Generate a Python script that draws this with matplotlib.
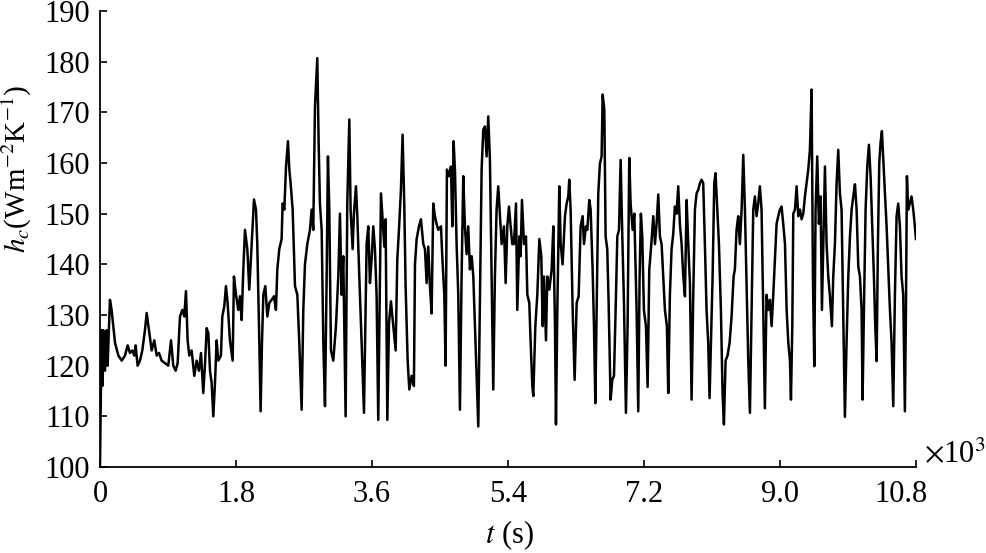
import matplotlib
matplotlib.use("Agg")
import matplotlib.pyplot as plt
import matplotlib.transforms as mtransforms
import numpy as np

plt.rcParams['font.family'] = ['Liberation Serif', 'DejaVu Serif']
plt.rcParams['mathtext.fontset'] = 'stix'

# time in 10^3 s
t_ks = [
    0.000, 0.022, 0.031, 0.044, 0.066, 0.088, 0.101, 0.132, 0.154, 0.199,
    0.243, 0.287, 0.331, 0.366, 0.397, 0.428, 0.454, 0.472, 0.498, 0.529,
    0.560, 0.595, 0.618, 0.648, 0.684, 0.719, 0.750, 0.781, 0.816, 0.860,
    0.904, 0.940, 0.970, 1.001, 1.028, 1.059, 1.090, 1.116, 1.138, 1.160,
    1.182, 1.213, 1.248, 1.279, 1.310, 1.337, 1.367, 1.389, 1.412, 1.434,
    1.456, 1.478, 1.500, 1.522, 1.544, 1.566, 1.601, 1.619, 1.645, 1.667,
    1.689, 1.720,
    1.756, 1.773, 1.800, 1.831, 1.853, 1.875, 1.897, 1.919, 1.950, 1.976,
    1.994, 2.020, 2.038, 2.065, 2.082, 2.109, 2.126, 2.144, 2.162, 2.188,
    2.215, 2.241, 2.272, 2.303, 2.329, 2.347, 2.373, 2.404, 2.417, 2.440,
    2.462, 2.488, 2.506, 2.523, 2.550, 2.581, 2.612, 2.638, 2.669, 2.691,
    2.713, 2.744, 2.779, 2.801, 2.823, 2.845, 2.876, 2.894, 2.911, 2.934,
    2.956, 2.978, 3.000, 3.017, 3.035, 3.057, 3.088, 3.123, 3.154, 3.176,
    3.198, 3.220, 3.251, 3.273, 3.300, 3.317, 3.344, 3.361, 3.388, 3.406,
    3.432, 3.463, 3.494,
    3.529, 3.551, 3.573, 3.595, 3.617, 3.639, 3.661, 3.683, 3.705, 3.719,
    3.741, 3.763, 3.780, 3.803, 3.825, 3.851, 3.882, 3.913, 3.935, 3.957,
    3.983, 4.005, 4.028, 4.045, 4.072, 4.094, 4.125, 4.155, 4.169, 4.191,
    4.222, 4.248, 4.279, 4.301, 4.323, 4.345, 4.367, 4.389, 4.411, 4.433,
    4.455, 4.477, 4.513, 4.530, 4.557, 4.574, 4.592, 4.619, 4.645, 4.663,
    4.680, 4.698, 4.720, 4.742, 4.764, 4.786, 4.808, 4.830, 4.852, 4.874,
    4.896, 4.919, 4.941, 4.963, 4.985, 5.007, 5.029, 5.051, 5.073, 5.095,
    5.117, 5.139, 5.161, 5.183, 5.205, 5.227, 5.249, 5.271,
    5.316, 5.347, 5.369, 5.391, 5.413, 5.435, 5.457, 5.479, 5.506, 5.523,
    5.550, 5.567, 5.585, 5.612, 5.638, 5.656, 5.682, 5.700, 5.722, 5.735,
    5.762, 5.788, 5.815, 5.841, 5.859, 5.876, 5.903, 5.920, 5.947, 5.978,
    6.000, 6.022, 6.035, 6.053, 6.079, 6.097, 6.123, 6.154, 6.176, 6.198,
    6.211, 6.229, 6.256, 6.282, 6.309, 6.335, 6.361, 6.388, 6.406, 6.432,
    6.450, 6.476, 6.494, 6.520, 6.538, 6.556, 6.573, 6.595, 6.617, 6.639,
    6.653, 6.675, 6.692, 6.714, 6.732, 6.758, 6.780, 6.803, 6.829, 6.847,
    6.869, 6.891, 6.913, 6.935, 6.961, 6.983, 7.005, 7.023, 7.050, 7.072,
    7.102, 7.124, 7.142, 7.159, 7.177, 7.199, 7.226, 7.248, 7.270, 7.292,
    7.323, 7.345, 7.367, 7.389, 7.411, 7.433, 7.455, 7.477, 7.503, 7.521,
    7.543, 7.565, 7.587, 7.609, 7.631, 7.653, 7.675, 7.698, 7.720, 7.742,
    7.764, 7.786, 7.808, 7.830, 7.852, 7.874, 7.896, 7.918, 7.940, 7.962,
    7.984, 8.006, 8.028, 8.050, 8.068, 8.086, 8.108, 8.130, 8.147, 8.170,
    8.192, 8.218, 8.240, 8.258, 8.280, 8.306, 8.333, 8.359, 8.386, 8.403,
    8.425, 8.447, 8.469, 8.492, 8.514, 8.536, 8.558, 8.580, 8.602, 8.624,
    8.646, 8.668, 8.690, 8.712, 8.734, 8.756, 8.778, 8.800, 8.822, 8.844,
    8.867, 8.889, 8.911, 8.933, 8.955, 8.977, 8.999, 9.021, 9.043, 9.066,
    9.088, 9.110, 9.132, 9.145, 9.163, 9.176, 9.198, 9.220, 9.242, 9.264,
    9.286, 9.308, 9.330, 9.352, 9.374, 9.396, 9.418, 9.436, 9.454, 9.471,
    9.493, 9.515, 9.537, 9.555, 9.573, 9.595, 9.617, 9.639, 9.661, 9.687,
    9.705, 9.727, 9.749, 9.771, 9.793, 9.815, 9.837, 9.859, 9.881, 9.904,
    9.926, 9.948, 9.970, 9.992, 10.014, 10.036, 10.058, 10.080, 10.093, 10.111,
    10.133, 10.155, 10.177, 10.199, 10.221, 10.243, 10.261, 10.279, 10.296, 10.314,
    10.331, 10.349, 10.367, 10.389, 10.411, 10.433, 10.455, 10.477, 10.499, 10.521,
    10.543, 10.565, 10.587, 10.609, 10.631, 10.653, 10.667, 10.680, 10.697, 10.719,
    10.741, 10.764, 10.785, 10.799,
]

# convective heat transfer coefficient, W m^-2 K^-1
h_c = [
    100.0, 127.0, 116.0, 127.0, 119.0, 127.0, 120.0, 133.0, 131.0, 124.5,
    122.0, 121.0, 122.0, 124.0, 122.5, 123.0, 122.0, 124.0, 120.0, 121.0,
    123.0, 127.0, 130.4, 127.0, 123.0, 125.0, 122.0, 122.5, 121.0, 120.5,
    120.0, 125.0, 120.0, 119.0, 120.5, 129.7, 131.0, 129.7, 134.7, 125.0,
    122.0, 123.0, 118.0, 121.0, 119.0, 122.5, 114.6, 120.0, 127.4, 126.4,
    119.0, 116.6, 110.0, 116.6, 125.0, 121.0, 122.0, 129.7, 131.7, 135.7,
    132.4, 125.0,
    121.0, 137.6, 134.0, 131.0, 133.7, 129.0, 139.0, 146.8, 143.0, 135.0,
    140.0, 147.5, 152.8, 150.8, 144.0, 124.5, 111.0, 124.5, 134.0, 135.7,
    129.7, 132.4, 133.0, 133.7, 131.0, 139.0, 143.0, 145.0, 152.0, 150.8,
    159.3, 164.3, 158.7, 156.0, 150.8, 135.7, 134.0, 124.5, 111.3, 131.0,
    140.0, 144.0, 146.8, 150.8, 146.8, 171.0, 180.7, 164.0, 152.0, 146.8,
    124.5, 112.0, 137.6, 161.3, 150.8, 123.0, 121.0, 127.8, 137.6, 150.0,
    134.0, 141.6, 110.0, 152.0, 168.6, 150.8, 143.0, 150.0, 155.4, 149.5,
    137.6, 124.5, 110.7,
    144.0, 147.5, 136.3, 141.0, 147.5, 143.0, 134.0, 109.3, 137.6, 154.0,
    148.9, 143.5, 148.9, 109.3, 128.4, 132.7, 127.8, 123.0, 141.0, 146.8,
    154.7, 165.6, 151.4, 135.7, 121.0, 115.3, 118.0, 116.0, 140.0, 145.0,
    147.5, 148.9, 144.0, 143.0, 136.3, 143.5, 135.7, 130.3, 152.0, 149.5,
    148.0, 146.8, 147.5, 141.6, 134.0, 120.0, 158.7, 157.4, 159.3, 147.5,
    164.3, 158.7, 144.0, 134.0, 111.3, 137.6, 157.4, 147.5, 142.0, 147.5,
    139.0, 141.6, 137.6, 127.8, 118.0, 108.0, 134.0, 158.7, 166.6, 167.2,
    161.3, 169.2, 160.6, 137.6, 115.3, 137.6, 150.8, 155.4,
    144.0, 147.5, 136.3, 147.5, 151.4, 147.5, 144.0, 144.0, 152.0, 131.0,
    145.5, 141.6, 152.7, 144.0, 145.5, 134.0, 132.4, 124.5, 116.0, 114.0,
    127.8, 134.0, 145.0, 141.6, 127.8, 137.6, 125.0, 137.6, 135.0, 139.0,
    147.5, 127.8, 108.4, 131.0, 155.4, 144.0, 140.0, 149.5, 152.0, 153.4,
    156.7, 150.8, 131.0, 117.2, 132.4, 133.7, 147.5, 149.5, 144.0, 147.5,
    146.8, 152.7, 150.8, 139.0, 127.8, 112.6, 131.0, 154.0, 159.9, 161.3,
    173.5, 170.5, 145.5, 143.0, 132.4, 113.3, 117.2, 118.0, 133.7, 145.5,
    146.8, 160.6, 145.5, 132.4, 110.7, 127.8, 161.0, 152.0, 146.8, 150.0,
    131.0, 111.0, 137.6, 150.0, 145.5, 131.0, 127.8, 115.8, 139.0, 143.0,
    149.5, 144.0, 148.0, 153.8, 145.5, 144.0, 137.6, 131.0, 127.8, 114.6,
    134.0, 143.0, 146.0, 151.4, 150.0, 155.4, 148.0, 144.0, 137.6, 133.7,
    152.7, 144.0, 136.3, 113.3, 134.0, 150.8, 154.0, 154.7, 156.0, 156.7,
    156.0, 144.0, 131.0, 124.5, 113.6, 124.5, 137.6, 156.0, 158.0, 150.8,
    144.0, 131.0, 114.6, 108.4, 121.0, 122.0, 124.5, 129.7, 137.6, 139.0,
    146.8, 149.5, 144.0, 150.8, 161.6, 150.8, 135.7, 121.0, 110.7, 131.0,
    150.8, 153.4, 149.5, 152.0, 155.4, 150.8, 131.0, 111.6, 134.0, 131.0,
    133.0, 127.8, 134.0, 141.0, 148.0, 149.5, 150.8, 151.4, 148.0, 144.0,
    131.0, 124.5, 121.0, 113.3, 127.8, 150.0, 150.8, 155.4, 149.5, 150.8,
    148.9, 150.0, 153.4, 156.0, 158.7, 162.6, 174.5, 137.6, 119.9, 150.8,
    161.3, 148.0, 153.4, 131.0, 144.0, 159.3, 144.0, 137.6, 133.7, 127.8,
    137.6, 144.0, 156.0, 162.6, 154.0, 150.8, 131.0, 109.9, 124.5, 137.6,
    145.5, 150.8, 153.4, 155.8, 150.8, 139.6, 137.6, 131.0, 113.3, 131.0,
    150.8, 159.3, 163.6, 157.4, 147.5, 137.6, 127.8, 120.9, 144.0, 160.0,
    164.0, 166.3, 160.6, 154.0, 147.5, 139.0, 131.0, 124.5, 112.0, 134.0,
    149.5, 152.0, 147.5, 137.6, 134.0, 111.0, 131.0, 157.4, 150.8, 152.0,
    153.4, 150.8, 147.5, 145.0,
]

x_ticks = [0, 1.8, 3.6, 5.4, 7.2, 9.0, 10.8]
x_labels = ["0", "1.8", "3.6", "5.4", "7.2", "9.0", "10.8"]
y_ticks = list(range(100, 191, 10))

fig = plt.figure(figsize=(9.86, 5.53), dpi=100)
ax = fig.add_axes([0.1014, 0.1555, 0.8276, 0.8246])

ax.plot(t_ks, h_c, color="black", linewidth=1.8)

ax.set_xlim(0, 10.8)
ax.set_ylim(100, 190)
ax.set_xticks(x_ticks)
ax.set_xticklabels(x_labels)
ax.set_yticks(y_ticks)

for side in ["top", "right"]:
    ax.spines[side].set_visible(False)
for side in ["left", "bottom"]:
    ax.spines[side].set_linewidth(1.3)

ax.tick_params(direction="in", length=5, width=1.2, labelsize=22, pad=7)
ax.tick_params(axis="x", pad=9)

# last x label sits a little left of its tick in the original
last = ax.get_xticklabels()[-1]
last.set_transform(last.get_transform() +
                   mtransforms.ScaledTranslation(-15 / 100, 0, fig.dpi_scale_trans))

fig.text(0.0175, 0.695, r"$h_c$(Wm$^{-2}$K$^{-1}$)", rotation=90,
         ha="center", va="center", fontsize=21)
fig.text(0.517, 0.033, r"$t$ (s)", ha="center", va="center", fontsize=22)
fig.text(0.937, 0.178, r"$\times$10$^3$", ha="left", va="center", fontsize=22)

fig.savefig("out.png", dpi=100)
